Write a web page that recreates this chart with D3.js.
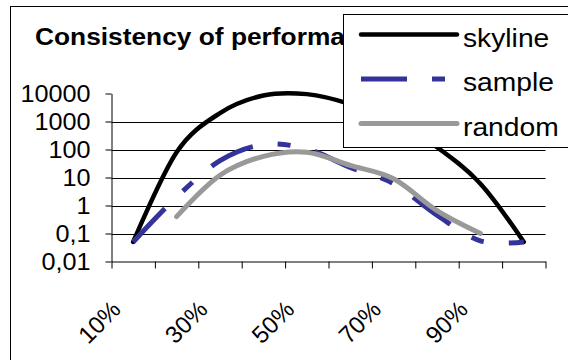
<!DOCTYPE html>
<html>
<head>
<meta charset="utf-8">
<script src="https://cdn.jsdelivr.net/npm/d3@7"></script>
<style>
  body { margin: 0; background: #fff; }
  svg { display: block; font-family: Arial, "Liberation Sans", sans-serif; }
</style>
</head>
<body>
<div id="wrapper"></div>
<script>
// data
const categories = ["10%", "20%", "30%", "40%", "50%", "60%", "70%", "80%", "90%", "100%"]
const skyline = [0.05, 80, 2000, 8500, 9500, 4200, 1000, 120, 6, 0.05]
const sample = [0.05, 2, 40, 150, 105, 23, 6, 0.45, 0.055, 0.05]
const random = [null, 0.4, 12, 57, 80, 27, 9, 0.65, 0.1, null]
const yTicks = [0.01, 0.1, 1, 10, 100, 1000, 10000]
const yTickLabels = ["0,01", "0,1", "1", "10", "100", "1000", "10000"]
const seriesNames = ["skyline", "sample", "random"]
const title = "Consistency of performance"

function drawChart() {
  const width = 568
  const height = 360
  const plot = { left: 111.5, right: 545.5, top: 93.5, bottom: 261.5 }

  const series = [
    { name: seriesNames[0], values: skyline, color: "#000000", width: 4.5, dash: null, cap: "round" },
    { name: seriesNames[1], values: sample, color: "#333399", width: 5, dash: "46,25,13,25", cap: "butt" },
    { name: seriesNames[2], values: random, color: "#999999", width: 5, dash: null, cap: "round" }
  ]

  const svg = d3.select("#wrapper")
    .append("svg")
      .attr("width", width)
      .attr("height", height)

  // chart area border (runs off the right and bottom edges)
  svg.append("rect")
    .attr("x", 10.5)
    .attr("y", 6.5)
    .attr("width", 620)
    .attr("height", 420)
    .attr("fill", "#fff")
    .attr("stroke", "#000")

  svg.append("text")
    .attr("transform", "translate(35,45) scale(1.12,1)")
    .attr("font-size", 23.5)
    .attr("font-weight", "bold")
    .text(title)

  // scales
  const xScale = d3.scaleLinear()
    .domain([0, categories.length])
    .range([plot.left, plot.right])

  const yScale = d3.scaleLog()
    .domain([yTicks[0], yTicks[yTicks.length - 1]])
    .range([plot.bottom, plot.top])

  // gridlines
  svg.append("g")
    .selectAll("line")
    .data(yTicks.slice(1, -1))
    .enter().append("line")
      .attr("x1", plot.left)
      .attr("x2", plot.right)
      .attr("y1", d => Math.round(yScale(d)) + 0.5)
      .attr("y2", d => Math.round(yScale(d)) + 0.5)
      .attr("stroke", "#000")
      .attr("stroke-width", 1)

  // y axis
  const yAxis = d3.axisLeft(yScale)
    .tickValues(yTicks)
    .tickFormat((d, i) => yTickLabels[i])
    .tickSizeInner(6)
    .tickSizeOuter(0)

  const yAxisGroup = svg.append("g")
    .attr("transform", `translate(${plot.left},0)`)
    .call(yAxis)
  yAxisGroup.selectAll("path, line").attr("stroke", "#000")
  yAxisGroup.selectAll("text")
    .attr("font-size", 24)
    .attr("fill", "#000")
    .attr("x", -20)
    .attr("dy", "0.35em")
    .attr("transform", "scale(1.05,1)")

  // x axis: ticks between categories
  const xAxis = d3.axisBottom(xScale)
    .tickValues(d3.range(categories.length + 1))
    .tickFormat("")
    .tickSizeInner(7)
    .tickSizeOuter(0)

  const xAxisGroup = svg.append("g")
    .attr("transform", `translate(0,${plot.bottom})`)
    .call(xAxis)
  xAxisGroup.selectAll("path, line").attr("stroke", "#000")

  // every other category is labelled
  svg.append("g")
    .selectAll("text")
    .data(categories)
    .enter().filter((d, i) => i % 2 === 0).append("text")
      .attr("transform", (d, i) => `translate(${xScale(i * 2 + 0.5) - 11},311) rotate(-45)`)
      .attr("text-anchor", "end")
      .attr("font-size", 24)
      .text(d => d)

  // smoothed series lines
  const lineGenerator = d3.line()
    .defined(d => d != null)
    .x((d, i) => xScale(i + 0.5))
    .y(d => yScale(d))
    .curve(d3.curveCardinal.tension(0))

  svg.append("g")
    .selectAll("path")
    .data(series)
    .enter().append("path")
      .attr("d", d => lineGenerator(d.values))
      .attr("fill", "none")
      .attr("stroke", d => d.color)
      .attr("stroke-width", d => d.width)
      .attr("stroke-dasharray", d => d.dash)
      .attr("stroke-linecap", d => d.cap)
      .attr("stroke-linejoin", "round")

  // legend
  const legend = svg.append("g")
  legend.append("rect")
    .attr("x", 343.5)
    .attr("y", 14.5)
    .attr("width", 260)
    .attr("height", 133)
    .attr("fill", "#fff")
    .attr("stroke", "#000")

  const items = legend.selectAll("g.item")
    .data(series)
    .enter().append("g")
      .attr("class", "item")
      .attr("transform", (d, i) => `translate(0,${34.5 + i * 44.5})`)

  items.append("line")
    .attr("x1", 361)
    .attr("x2", 457)
    .attr("stroke", d => d.color)
    .attr("stroke-width", d => d.width)
    .attr("stroke-dasharray", d => d.dash)
    .attr("stroke-linecap", d => d.cap)

  items.append("text")
    .attr("transform", "translate(463,12) scale(1.13,1)")
    .attr("font-size", 25)
    .text(d => d.name)
}

drawChart()
</script>
</body>
</html>
